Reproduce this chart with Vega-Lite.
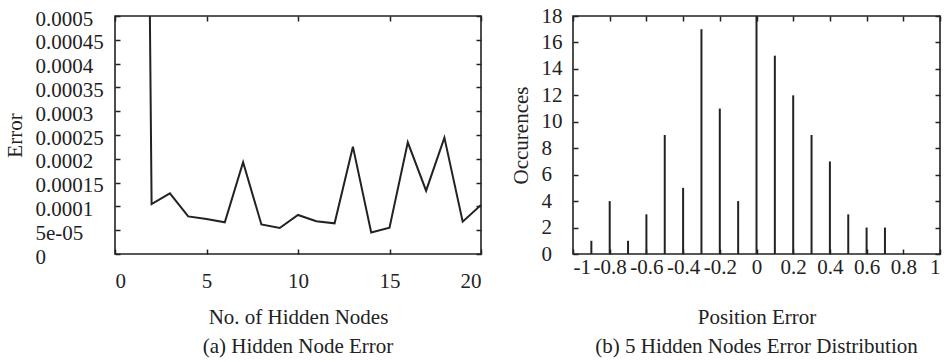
{
  "$schema": "https://vega.github.io/schema/vega-lite/v6.json",
  "padding": {"left": 3, "top": 4, "right": 0, "bottom": 0},
  "background": "white",
  "config": {
    "font": "Times New Roman, Liberation Serif, serif",
    "view": {"stroke": "#222", "strokeWidth": 1.6},
    "axis": {
      "grid": false, "domain": false,
      "tickColor": "#222", "tickSize": -5, "tickWidth": 1.5,
      "labelFont": "Times New Roman, Liberation Serif, serif", "labelFontSize": 21, "labelColor": "#222",
      "titleFont": "Times New Roman, Liberation Serif, serif", "titleFontSize": 21, "titleFontWeight": "normal", "titleColor": "#222"
    },
    "title": {"font": "Times New Roman, Liberation Serif, serif", "fontSize": 21, "fontWeight": "normal", "color": "#222", "orient": "bottom", "offset": 9},
    "concat": {"spacing": 26}
  },
  "datasets": {
    "hidden": [
      {"nodes": 1, "error": 0.0043},
      {"nodes": 2, "error": 0.000105},
      {"nodes": 3, "error": 0.0001275},
      {"nodes": 4, "error": 0.000079},
      {"nodes": 5, "error": 0.0000735},
      {"nodes": 6, "error": 0.0000665},
      {"nodes": 7, "error": 0.000193},
      {"nodes": 8, "error": 0.000062},
      {"nodes": 9, "error": 0.0000545},
      {"nodes": 10, "error": 0.000082},
      {"nodes": 11, "error": 0.000069},
      {"nodes": 12, "error": 0.0000645},
      {"nodes": 13, "error": 0.0002255},
      {"nodes": 14, "error": 0.000045},
      {"nodes": 15, "error": 0.0000553},
      {"nodes": 16, "error": 0.0002345},
      {"nodes": 17, "error": 0.000133},
      {"nodes": 18, "error": 0.0002445},
      {"nodes": 19, "error": 0.000068},
      {"nodes": 20, "error": 0.000103}
    ],
    "dist": [
      {"pos": -0.9, "count": 1},
      {"pos": -0.8, "count": 4},
      {"pos": -0.7, "count": 1},
      {"pos": -0.6, "count": 3},
      {"pos": -0.5, "count": 9},
      {"pos": -0.4, "count": 5},
      {"pos": -0.3, "count": 17},
      {"pos": -0.2, "count": 11},
      {"pos": -0.1, "count": 4},
      {"pos": 0.0, "count": 18},
      {"pos": 0.1, "count": 15},
      {"pos": 0.2, "count": 12},
      {"pos": 0.3, "count": 9},
      {"pos": 0.4, "count": 7},
      {"pos": 0.5, "count": 3},
      {"pos": 0.6, "count": 2},
      {"pos": 0.7, "count": 2}
    ]
  },
  "hconcat": [
    {
      "width": 366, "height": 238,
      "title": "(a) Hidden Node Error",
      "data": {"name": "hidden"},
      "layer": [
        {
          "mark": {"type": "line", "color": "#222", "strokeWidth": 2, "clip": true},
          "encoding": {
            "x": {"field": "nodes", "type": "quantitative",
              "scale": {"domain": [0, 20], "nice": false, "zero": false},
              "axis": {"orient": "bottom", "values": [0, 5, 10, 15, 20], "title": "No. of Hidden Nodes", "labelPadding": 21, "titlePadding": 15}},
            "y": {"field": "error", "type": "quantitative",
              "scale": {"domain": [0, 0.0005], "nice": false, "zero": false},
              "axis": {"orient": "left", "values": [0, 0.00005, 0.0001, 0.00015, 0.0002, 0.00025, 0.0003, 0.00035, 0.0004, 0.00045, 0.0005],
                "labelExpr": "datum.value == 0.00005 ? '5e-05' : '' + datum.value",
                "labelAlign": "left", "labelPadding": 85, "labelOffset": 3, "title": "Error", "titlePadding": 10}}
          }
        },
        {
          "mark": {"type": "line", "opacity": 0, "clip": true},
          "encoding": {
            "x": {"field": "nodes", "type": "quantitative",
              "axis": {"orient": "top", "values": [0, 5, 10, 15, 20], "labels": false, "title": null}},
            "y": {"field": "error", "type": "quantitative",
              "axis": {"orient": "right", "values": [0, 0.00005, 0.0001, 0.00015, 0.0002, 0.00025, 0.0003, 0.00035, 0.0004, 0.00045, 0.0005], "labels": false, "title": null}}
          }
        }
      ]
    },
    {
      "width": 367, "height": 238,
      "title": "(b) 5 Hidden Nodes Error Distribution",
      "data": {"name": "dist"},
      "layer": [
        {
          "mark": {"type": "rule", "color": "#222", "strokeWidth": 2, "clip": true},
          "encoding": {
            "x": {"field": "pos", "type": "quantitative",
              "scale": {"domain": [-1, 1], "nice": false, "zero": false},
              "axis": {"orient": "bottom", "values": [-1, -0.8, -0.6, -0.4, -0.2, 0, 0.2, 0.4, 0.6, 0.8, 1],
                "labelExpr": "'' + datum.value", "title": "Position Error", "labelPadding": 7, "titlePadding": 29}},
            "y": {"field": "count", "type": "quantitative",
              "scale": {"domain": [0, 18], "nice": false},
              "axis": {"orient": "left", "values": [0, 2, 4, 6, 8, 10, 12, 14, 16, 18],
                "labelAlign": "left", "labelPadding": 37, "title": "Occurences", "titlePadding": 10}},
            "y2": {"datum": 0}
          }
        },
        {
          "mark": {"type": "rule", "opacity": 0, "clip": true},
          "encoding": {
            "x": {"field": "pos", "type": "quantitative",
              "axis": {"orient": "top", "values": [-1, -0.8, -0.6, -0.4, -0.2, 0, 0.2, 0.4, 0.6, 0.8, 1], "labels": false, "title": null}},
            "y": {"field": "count", "type": "quantitative",
              "axis": {"orient": "right", "values": [0, 2, 4, 6, 8, 10, 12, 14, 16, 18], "labels": false, "title": null}}
          }
        }
      ]
    }
  ]
}
